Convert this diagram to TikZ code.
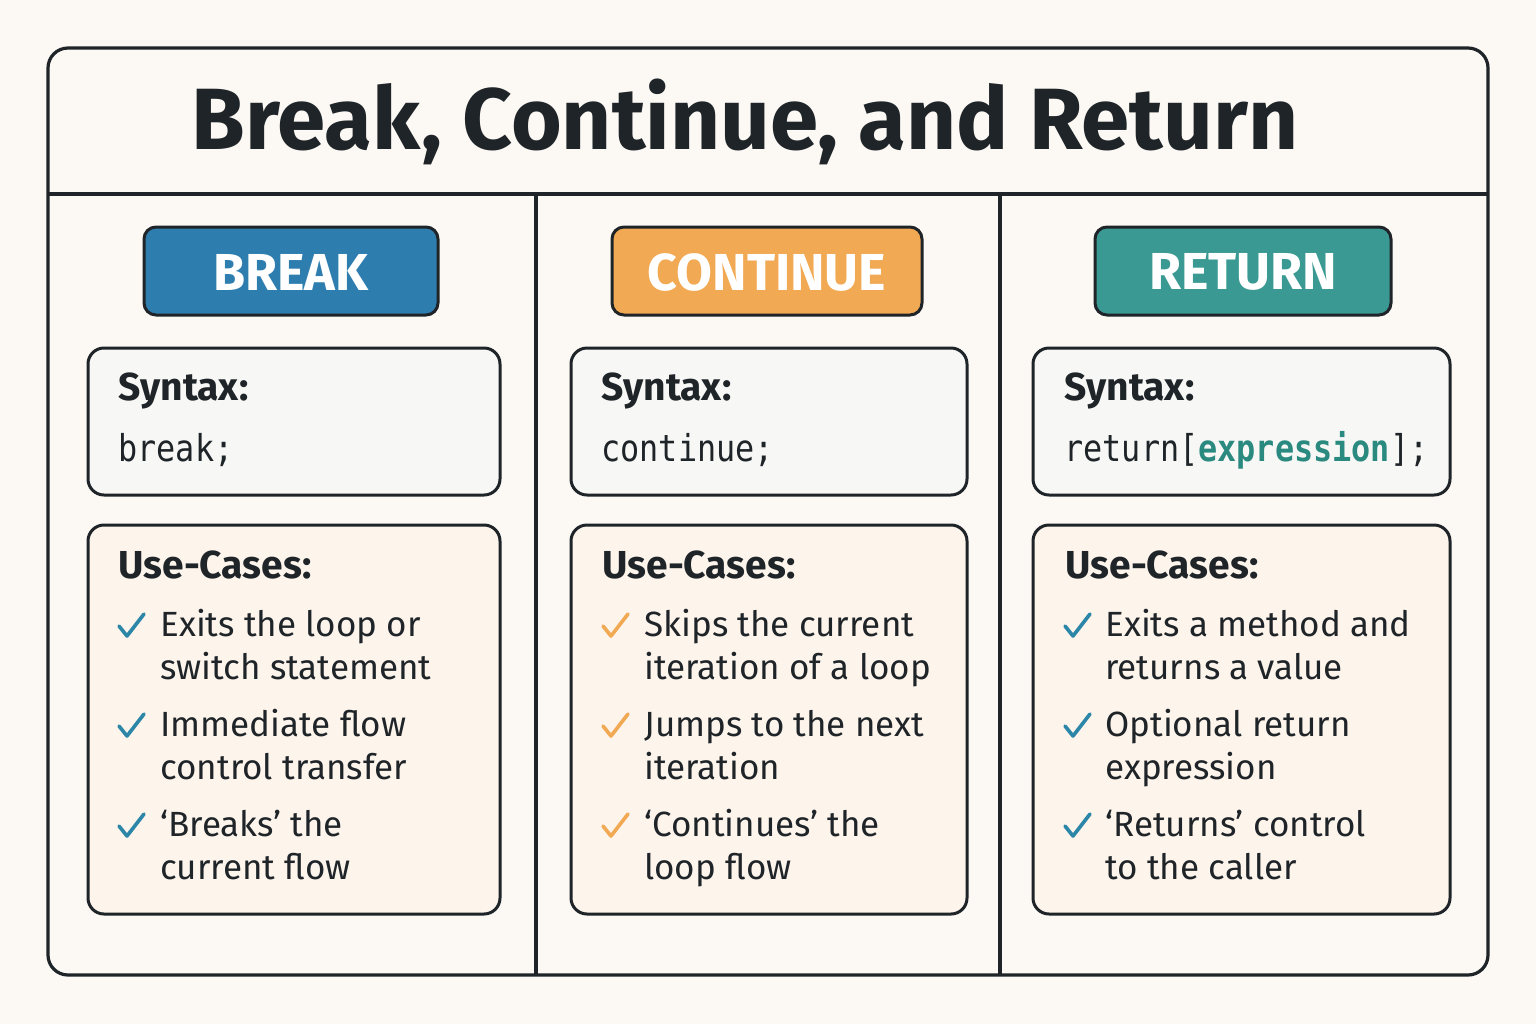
\documentclass[tikz,border=0pt]{standalone}
\usepackage{fontspec}
\setmainfont{Fira Sans}
\newfontfamily\codefont[FakeStretch=0.86]{DejaVu Sans Mono}
\definecolor{bg}{HTML}{FCF9F4}
\definecolor{ink}{HTML}{1E2428}
\definecolor{cblue}{HTML}{2E7DAF}
\definecolor{corange}{HTML}{F2A953}
\definecolor{cteal}{HTML}{3A9A93}
\definecolor{chkblue}{HTML}{2C86A8}
\definecolor{synbg}{HTML}{F7F7F5}
\definecolor{usebg}{HTML}{FDF4EC}
\definecolor{exprc}{HTML}{2A8A80}
\tikzset{
  x=0.5pt,y=-0.5pt,
  frame/.style={draw=ink,line width=1.6pt,rounded corners=10pt},
  btn/.style={draw=ink,line width=1.5pt,rounded corners=6pt},
  box/.style={draw=ink,line width=1.5pt,rounded corners=8pt},
  lbl/.style={anchor=base west,inner sep=0pt,text=ink,font=\fontsize{19.5}{23}\selectfont\bfseries},
  code/.style={anchor=base west,inner sep=0pt,text=ink,font=\fontsize{18.5}{22}\codefont},
  item/.style={anchor=base west,inner sep=0pt,text=ink,font=\fontsize{17.5}{21.5}\selectfont,align=left},
  btext/.style={text=white,font=\fontsize{26}{30}\selectfont\bfseries},
}
\newcommand{\chk}[3]{\draw[#3,line width=1.8pt,line cap=round,line join=round] (#1-12,#2-10) -- (#1-4,#2) -- (#1+13,#2-22);}
\begin{document}
\begin{tikzpicture}
\fill[bg] (0,0) rectangle (1536,1024);
\useasboundingbox (0,0) rectangle (1536,1024);
\draw[frame,fill=bg] (48,48) rectangle (1488,975);
\draw[ink,line width=1.6pt] (48,194) -- (1488,194);
\draw[ink,line width=1.6pt] (536,194) -- (536,975);
\draw[ink,line width=1.6pt] (1000,194) -- (1000,975);
\node[text=ink,font=\fontsize{43.5}{48}\selectfont\bfseries] (title) at (745,122) {Break, Continue, and Return};
% buttons
\draw[btn,fill=cblue] (144,227) rectangle (438,315);
\node[btext] (b1) at (291,272) {BREAK};
\draw[btn,fill=corange] (612,227) rectangle (922,315);
\node[btext] (b2) at (767,272) {CONTINUE};
\draw[btn,fill=cteal] (1095,227) rectangle (1391,315);
\node[btext] (b3) at (1243,272) {RETURN};
% syntax boxes
\draw[box,fill=synbg] (88,348) rectangle (500,495);
\draw[box,fill=synbg] (571,348) rectangle (967,495);
\draw[box,fill=synbg] (1033,348) rectangle (1450,495);
\node[lbl] (s1) at (118,400) {Syntax:};
\node[lbl] (s2) at (601,400) {Syntax:};
\node[lbl] (s3) at (1064,400) {Syntax:};
\node[code] (c1) at (118,461) {break;};
\node[code] (c2) at (601,461) {continue;};
\node[code] (c3) at (1064,461) {return[\textcolor{exprc}{\bfseries expression}];};
% use-case boxes
\draw[box,fill=usebg] (88,525) rectangle (500,914);
\draw[box,fill=usebg] (571,525) rectangle (967,914);
\draw[box,fill=usebg] (1033,525) rectangle (1450,914);
\node[lbl] (u1) at (118,578) {Use-Cases:};
\node[lbl] (u2) at (602,578) {Use-Cases:};
\node[lbl] (u3) at (1065,578) {Use-Cases:};
% column 1
\chk{131}{636}{chkblue}\chk{131}{736}{chkblue}\chk{131}{836}{chkblue}
\node[item] (i11) at (160,679) {Exits the loop or\\switch statement};
\node[item] (i12) at (160,779) {Immediate flow\\control transfer};
\node[item] (i13) at (160,879) {‘Breaks’ the\\current flow};
% column 2
\chk{615}{636}{corange}\chk{615}{736}{corange}\chk{615}{836}{corange}
\node[item] (i21) at (644,679) {Skips the current\\iteration of a loop};
\node[item] (i22) at (644,779) {Jumps to the next\\iteration};
\node[item] (i23) at (644,879) {‘Continues’ the\\loop flow};
% column 3
\chk{1077}{636}{chkblue}\chk{1077}{736}{chkblue}\chk{1077}{836}{chkblue}
\node[item] (i31) at (1105,679) {Exits a method and\\returns a value};
\node[item] (i32) at (1105,779) {Optional return\\expression};
\node[item] (i33) at (1105,879) {‘Returns’ control\\to the caller};
\end{tikzpicture}
\end{document}
